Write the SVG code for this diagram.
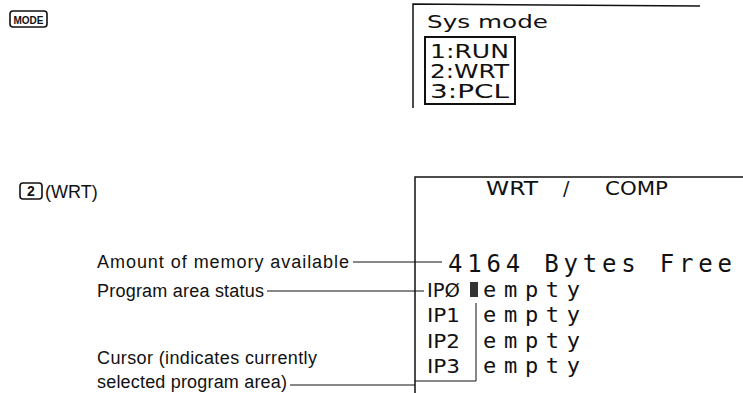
<svg xmlns="http://www.w3.org/2000/svg" width="743" height="393" viewBox="0 0 743 393">
<style>
.lbl{font-family:"Liberation Sans",Arial,sans-serif;font-size:18px;fill:#111}
.lcd{font-family:"DejaVu Sans","Liberation Sans",sans-serif;fill:#111}
.mono{font-family:"DejaVu Sans Mono","Liberation Mono",monospace;fill:#111}
.scr{fill:none;stroke:#111;stroke-width:1.5}
.ld{fill:none;stroke:#111;stroke-width:1}
.key{fill:none;stroke:#111;stroke-width:1.6}
</style>
<rect width="743" height="393" fill="#fff"/>

<g id="key-mode">
<rect class="key" x="10" y="11" width="37" height="16" rx="3"/>
<text x="28.5" y="24" text-anchor="middle" style="font-family:'Liberation Sans',sans-serif;font-size:11px;font-weight:bold;fill:#111" textLength="30" lengthAdjust="spacingAndGlyphs">MODE</text>
</g>

<g id="screen-sysmode">
<polyline class="scr" points="413,108 413,4 700,6"/>
<text class="lcd" x="427" y="28" font-size="18" textLength="121" lengthAdjust="spacingAndGlyphs">Sys mode</text>
<rect x="425" y="37" width="90" height="67" fill="none" stroke="#111" stroke-width="2"/>
<text class="lcd" x="430" y="58" font-size="19" textLength="79" lengthAdjust="spacingAndGlyphs">1:RUN</text>
<text class="lcd" x="430" y="78" font-size="19" textLength="79" lengthAdjust="spacingAndGlyphs">2:WRT</text>
<text class="lcd" x="430" y="98" font-size="19" textLength="79" lengthAdjust="spacingAndGlyphs">3:PCL</text>
</g>

<g id="key-2">
<rect class="key" x="20" y="183" width="22" height="16" rx="3"/>
<text x="31" y="196" text-anchor="middle" style="font-family:'Liberation Sans',sans-serif;font-size:14px;font-weight:bold;fill:#111">2</text>
<text class="lbl" x="45" y="198" font-size="19">(WRT)</text>
</g>

<g id="screen-wrt">
<polyline class="scr" points="415,393 415,177 743,177"/>
<text class="lcd" y="195" font-size="19"><tspan x="486" textLength="52" lengthAdjust="spacingAndGlyphs">WRT</tspan><tspan x="563">/</tspan><tspan x="605" textLength="63" lengthAdjust="spacingAndGlyphs">COMP</tspan></text>
<text class="mono" x="448" y="272" font-size="24" textLength="284" lengthAdjust="spacing">4164 Bytes Free</text>
<text class="lcd" x="427" y="297" font-size="20" textLength="33" lengthAdjust="spacingAndGlyphs">IPØ</text>
<rect x="470" y="282" width="8" height="15" fill="#333"/>
<text class="mono" x="483" y="297" font-size="22" textLength="97" lengthAdjust="spacing">empty</text>
<text class="lcd" x="427" y="322" font-size="20" textLength="33" lengthAdjust="spacingAndGlyphs">IP1</text>
<text class="mono" x="483" y="322" font-size="22" textLength="97" lengthAdjust="spacing">empty</text>
<text class="lcd" x="427" y="347.5" font-size="20" textLength="33" lengthAdjust="spacingAndGlyphs">IP2</text>
<text class="mono" x="483" y="347.5" font-size="22" textLength="97" lengthAdjust="spacing">empty</text>
<text class="lcd" x="427" y="373" font-size="20" textLength="33" lengthAdjust="spacingAndGlyphs">IP3</text>
<text class="mono" x="483" y="373" font-size="22" textLength="97" lengthAdjust="spacing">empty</text>
<polyline class="ld" points="476,303 476,381 415,381"/>
</g>

<g id="label-memory">
<text class="lbl" x="97" y="268" textLength="252" lengthAdjust="spacing">Amount of memory available</text>
</g>
<g id="label-status">
<text class="lbl" x="97" y="297" textLength="167" lengthAdjust="spacing">Program area status</text>
</g>
<g id="label-cursor">
<text class="lbl" x="97" y="364" textLength="220" lengthAdjust="spacing">Cursor (indicates currently</text>
<text class="lbl" x="97" y="388" textLength="190" lengthAdjust="spacing">selected program area)</text>
</g>

<g id="connectors">
<line class="ld" x1="353" y1="262" x2="442" y2="262"/>
<line class="ld" x1="267" y1="291" x2="424" y2="291"/>
<line class="ld" x1="290" y1="385" x2="415" y2="385"/>
</g>
</svg>
